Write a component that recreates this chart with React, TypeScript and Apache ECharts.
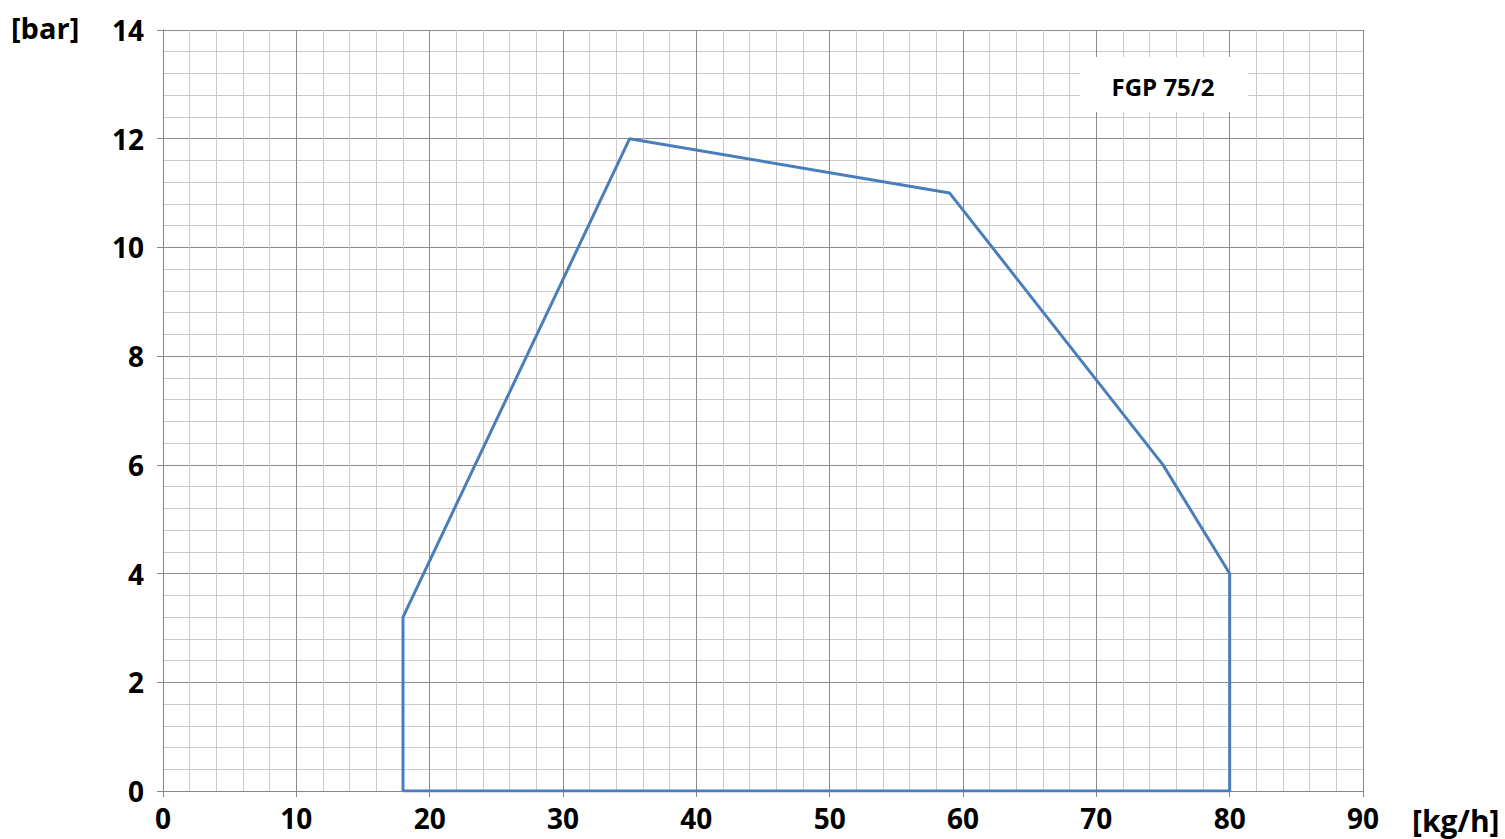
import React, { useEffect, useRef } from "react";
import * as echarts from "echarts";

const flowKgH = [18, 18, 35, 59, 75, 80, 80, 18];
const pressureBar = [0, 3.2, 12, 11, 6, 4, 0, 0];
const modelLabel = "FGP 75/2";
const yAxisName = "[bar]";
const xAxisName = "[kg/h]";

const FONT = "'Open Sans', Lato, sans-serif";

export default function App() {
  const ref = useRef<HTMLDivElement>(null);
  useEffect(() => {
    if (!ref.current) return;
    const chart = echarts.init(ref.current, null, { renderer: "svg" });
    const data = flowKgH.map((x, i) => [x, pressureBar[i]]);
    chart.setOption({
      animation: false,
      backgroundColor: "#ffffff",
      grid: { left: 163, right: 142, top: 30, bottom: 48, containLabel: false },
      xAxis: {
        type: "value",
        min: 0,
        max: 90,
        interval: 10,
        axisLine: { show: true, lineStyle: { color: "#868686", width: 1 } },
        axisTick: { show: true, length: 6, lineStyle: { color: "#868686" } },
        minorTick: { show: false, splitNumber: 5 },
        splitLine: { show: true, lineStyle: { color: "#8a8a8a", width: 1 } },
        minorSplitLine: { show: true, lineStyle: { color: "#cbcbcb", width: 1 } },
        axisLabel: {
          color: "#000",
          fontFamily: FONT,
          fontWeight: "bold",
          fontSize: 28,
          margin: 13,
        },
      },
      yAxis: {
        type: "value",
        min: 0,
        max: 14,
        interval: 2,
        axisLine: { show: true, lineStyle: { color: "#868686", width: 1 } },
        axisTick: { show: true, length: 6, lineStyle: { color: "#868686" } },
        minorTick: { show: false, splitNumber: 5 },
        splitLine: { show: true, lineStyle: { color: "#8a8a8a", width: 1 } },
        minorSplitLine: { show: true, lineStyle: { color: "#cbcbcb", width: 1 } },
        axisLabel: {
          color: "#000",
          fontFamily: FONT,
          fontWeight: "bold",
          fontSize: 28,
          margin: 19,
        },
      },
      series: [
        {
          type: "line",
          data,
          symbol: "none",
          lineStyle: { color: "#4a7ebb", width: 3 },
          z: 5,
        },
      ],
      graphic: [
        {
          type: "text",
          x: 11,
          y: 27,
          style: {
            text: yAxisName,
            fontFamily: FONT,
            fontWeight: "bold",
            fontSize: 29,
            fill: "#000",
            align: "left",
            verticalAlign: "middle",
          },
        },
        {
          type: "text",
          x: 1412,
          y: 820,
          style: {
            text: xAxisName,
            fontFamily: FONT,
            fontWeight: "bold",
            fontSize: 30,
            fill: "#000",
            align: "left",
            verticalAlign: "middle",
          },
        },
        {
          type: "rect",
          shape: { x: 1080, y: 57, width: 168, height: 55 },
          style: { fill: "#ffffff" },
          z: 10,
        },
        {
          type: "text",
          x: 1163,
          y: 86,
          style: {
            text: modelLabel,
            fontFamily: FONT,
            fontWeight: "bold",
            fontSize: 24,
            fill: "#000",
            align: "center",
            verticalAlign: "middle",
          },
          z: 11,
        },
      ],
    });
    return () => chart.dispose();
  }, []);
  return (
    <div
      ref={ref}
      style={{ position: "absolute", left: 0, top: 0, width: 1505, height: 839 }}
    />
  );
}
